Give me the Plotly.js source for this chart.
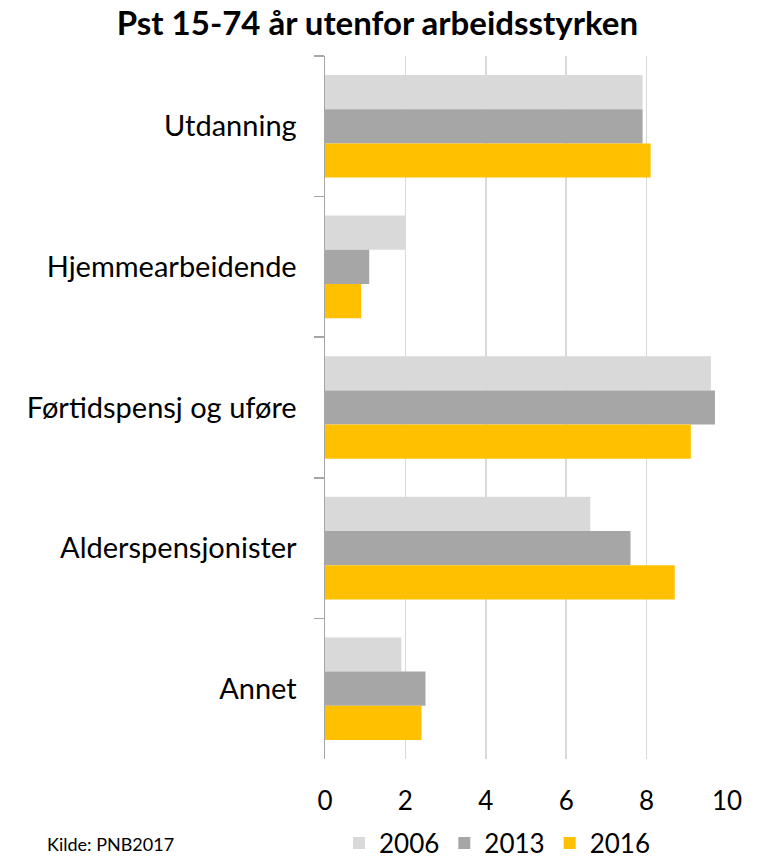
<!DOCTYPE html>
<html>
<head>
<meta charset="utf-8">
<script src="https://cdn.plot.ly/plotly-3.0.1.min.js"></script>
<style>html,body{margin:0;padding:0;background:#fff;}#chart{width:764px;height:858px;}</style>
</head>
<body>
<div id="chart"></div>
<script>
const categories = ["Utdanning", "Hjemmearbeidende", "Førtidspensj og uføre", "Alderspensjonister", "Annet"];
const years = ["2006", "2013", "2016"];
const values2006 = [7.9, 2.0, 9.6, 6.6, 1.9];
const values2013 = [7.9, 1.1, 9.7, 7.6, 2.5];
const values2016 = [8.1, 0.9, 9.1, 8.7, 2.4];
const xTicks = [0, 2, 4, 6, 8, 10];
const colors = ["#d9d9d9", "#a6a6a6", "#ffc000"];
const series = [values2006, values2013, values2016];

const FONT = "Lato, 'Open Sans', sans-serif";
const traces = series.map((vals, i) => ({
  type: "bar",
  orientation: "h",
  name: years[i],
  y: categories,
  x: vals,
  marker: {color: colors[i], line: {width: 0}},
  hoverinfo: "x+name"
}));

const layout = {
  width: 764, height: 858,
  margin: {l: 325, r: 37, t: 56, b: 99},
  paper_bgcolor: "#fff", plot_bgcolor: "#fff",
  font: {family: FONT, color: "#000", size: 26},
  title: {text: "<b>Pst 15-74 år utenfor arbeidsstyrken</b>", font: {family: FONT, size: 33, color: "#000"},
          x: 0.494, xanchor: "center", xref: "container", y: 1 - 23/858, yanchor: "middle", yref: "container"},
  barmode: "group",
  bargap: 0.27,
  bargroupgap: 0,
  xaxis: {range: [0, 10], tickvals: xTicks, ticktext: xTicks.map(String), showgrid: true, gridcolor: "#d9d9d9", gridwidth: 1.5,
          zeroline: false, showline: false, ticks: "", ticklabelstandoff: 24, tickfont: {size: 26, color: "#000"},
          fixedrange: true, automargin: false},
  yaxis: {autorange: "reversed", showline: true, linecolor: "#a6a6a6", linewidth: 1.5, ticks: "outside", tickson: "boundaries",
          ticklen: 10, tickcolor: "#a6a6a6", tickwidth: 1.5, ticklabelstandoff: 21, showgrid: false,
          tickfont: {size: 29, color: "#000"}, automargin: false},
  showlegend: true,
  legend: {orientation: "h", x: 497 / 764, xref: "container", xanchor: "center", y: 1 - 843 / 858, yref: "container",
           yanchor: "middle", font: {size: 26, color: "#000"}, traceorder: "normal", itemwidth: 30},
  annotations: [{text: "Kilde: PNB2017", xref: "paper", yref: "paper", x: -(325 - 45) / 402, xanchor: "left",
                 y: -(857 - 759) / 703, yanchor: "bottom", showarrow: false, font: {size: 18, color: "#000"}}]
};

Plotly.newPlot("chart", traces, layout, {displayModeBar: false, staticPlot: true});
</script>
</body>
</html>
